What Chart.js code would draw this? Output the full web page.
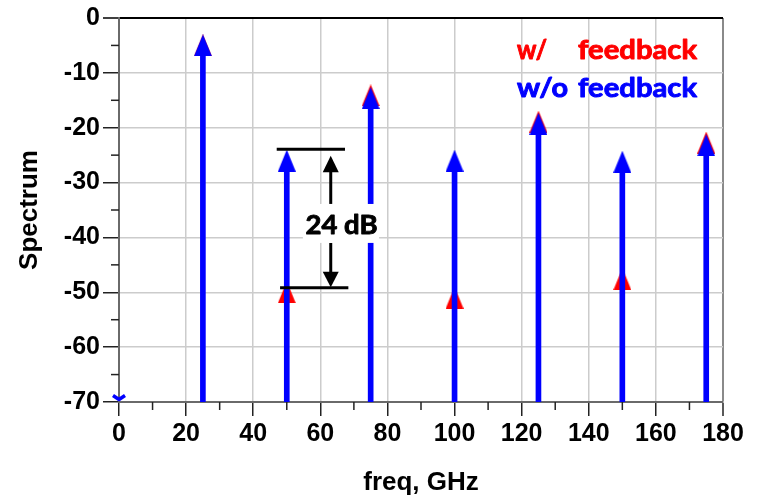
<!DOCTYPE html>
<html><head><meta charset="utf-8">
<script src="https://cdn.jsdelivr.net/npm/chart.js@4"></script>
<style>html,body{margin:0;padding:0;background:#fff}</style>
</head><body>
<canvas id="c" width="758" height="498"></canvas>
<script>
// ---- data ----
const freqs = [25, 50, 75, 100, 125, 150, 175];
const woFeedback = [-5, -26, -14.6, -26, -19.3, -26.2, -23.2];
const wFeedback = [-5, -50, -14.1, -51, -18.9, -47.6, -22.7];
const dcFreq = [0];
const dcLevel = [-70];
const floorLevel = -70;
const xMajorTicks = [0, 20, 40, 60, 80, 100, 120, 140, 160, 180];
const xMinorTicks = [10, 30, 50, 70, 90, 110, 130, 150, 170];
const yMajorTicks = [0, -10, -20, -30, -40, -50, -60, -70];
const yMinorTicks = [-5, -15, -25, -35, -45, -55, -65];
const gapLevels = [-23.93, -49.16];
const gapLabel = '24 dB';
const legendLabels = [['w/', 'feedback'], ['w/o', 'feedback']];

// ---- marker images ----
function triCanvas(color, w, h) {
  const c = document.createElement('canvas'); c.width = w; c.height = h;
  const g = c.getContext('2d'); g.fillStyle = color;
  g.beginPath(); g.moveTo(w / 2, 0); g.lineTo(w, h); g.lineTo(0, h); g.closePath(); g.fill();
  return c;
}
function chevCanvas(color) {
  const c = document.createElement('canvas'); c.width = 16; c.height = 16;
  const g = c.getContext('2d'); g.strokeStyle = color; g.lineWidth = 3.5; g.lineJoin = 'round';
  g.beginPath(); g.moveTo(2, 1.5); g.lineTo(8, 5.5); g.lineTo(14, 1.5); g.stroke();
  return c;
}
const blueTri = triCanvas('#0000ff', 18, 22);
const redTri = triCanvas('#ff0000', 18, 22);
const dcMark = chevCanvas('#0000ff');

function stretchText(ctx, text, x, y, w, color) {
  const m = ctx.measureText(text).width;
  ctx.save(); ctx.translate(x, y); ctx.scale(w / m, 1);
  ctx.fillStyle = color; ctx.strokeStyle = color; ctx.lineWidth = 0.9; ctx.lineJoin = 'round';
  ctx.fillText(text, 0, 0); ctx.strokeText(text, 0, 0);
  ctx.restore();
}

// ---- overlay plugin: minor ticks, gap annotation, legend text ----
const overlay = {
  id: 'overlay',
  afterDraw(chart) {
    const {ctx, chartArea: ca, scales: {x, y}} = chart;
    ctx.save();
    // minor ticks
    ctx.strokeStyle = '#222'; ctx.lineWidth = 1.5;
    xMinorTicks.forEach(v => { const px = x.getPixelForValue(v); ctx.beginPath(); ctx.moveTo(px, ca.bottom); ctx.lineTo(px, ca.bottom + 8); ctx.stroke(); });
    yMinorTicks.forEach(v => { const py = y.getPixelForValue(v); ctx.beginPath(); ctx.moveTo(ca.left - 8, py); ctx.lineTo(ca.left, py); ctx.stroke(); });

    // gap annotation
    const yT = y.getPixelForValue(gapLevels[0]);
    const yB = y.getPixelForValue(gapLevels[1]);
    ctx.strokeStyle = '#000'; ctx.lineWidth = 3;
    ctx.beginPath(); ctx.moveTo(x.getPixelForValue(47.0), yT); ctx.lineTo(x.getPixelForValue(67.35), yT); ctx.stroke();
    ctx.beginPath(); ctx.moveTo(x.getPixelForValue(48.0), yB); ctx.lineTo(x.getPixelForValue(68.35), yB); ctx.stroke();
    const ax = x.getPixelForValue(63.1);
    const bx0 = x.getPixelForValue(54.8), bx1 = x.getPixelForValue(77.5);
    const by0 = y.getPixelForValue(-33.9), by1 = y.getPixelForValue(-41.0);
    ctx.fillStyle = '#000';
    ctx.lineWidth = 3;
    ctx.beginPath(); ctx.moveTo(ax, yT + 20); ctx.lineTo(ax, by0); ctx.stroke();
    ctx.beginPath(); ctx.moveTo(ax, by1); ctx.lineTo(ax, yB - 12); ctx.stroke();
    ctx.beginPath(); ctx.moveTo(ax, yT + 6.5); ctx.lineTo(ax + 8, yT + 23); ctx.lineTo(ax - 8, yT + 23); ctx.closePath(); ctx.fill();
    ctx.beginPath(); ctx.moveTo(ax, yB - 0.5); ctx.lineTo(ax + 8, yB - 16); ctx.lineTo(ax - 8, yB - 16); ctx.closePath(); ctx.fill();
    // label box
    ctx.fillStyle = '#fff';
    ctx.fillRect(bx0, by0, bx1 - bx0, by1 - by0);
    ctx.font = 'bold 26px Lato, "Open Sans", sans-serif';
    ctx.textAlign = 'left'; ctx.textBaseline = 'alphabetic';
    stretchText(ctx, gapLabel, x.getPixelForValue(55.6), y.getPixelForValue(-39.4), 72, '#000');

    // legend text
    ctx.font = 'bold 26px Lato, "Open Sans", sans-serif';
    const colors = ['#ff0000', '#0000ff'];
    const baselines = [ca.top + 41, ca.top + 79];
    const firstW = [30, 51];
    legendLabels.forEach((lab, i) => {
      stretchText(ctx, lab[0], ca.left + 398, baselines[i], firstW[i], colors[i]);
      stretchText(ctx, lab[1], ca.left + 459, baselines[i], 119, colors[i]);
    });
    ctx.restore();
  }
};

const tickFont = {family: '"Liberation Sans", Arial, sans-serif', weight: 'bold', size: 25};
const titleFont = {family: '"Liberation Sans", Arial, sans-serif', weight: 'bold', size: 26};

new Chart(document.getElementById('c'), {
  type: 'scatter',
  data: {
    datasets: [
      {
        type: 'bar',
        data: freqs.map((f, i) => ({x: f, y: [floorLevel, woFeedback[i]]})),
        backgroundColor: '#0000ff', borderWidth: 0, barThickness: 5, order: 2
      },
      {
        data: freqs.map((f, i) => ({x: f, y: wFeedback[i]})),
        pointStyle: redTri, pointRadius: 10, showLine: false, order: 3
      },
      {
        data: freqs.map((f, i) => ({x: f, y: woFeedback[i]})),
        pointStyle: blueTri, pointRadius: 10, showLine: false, order: 1
      },
      {
        data: dcFreq.map((f, i) => ({x: f, y: dcLevel[i]})),
        pointStyle: dcMark, pointRadius: 8, showLine: false, order: 0, clip: false
      }
    ]
  },
  options: {
    responsive: false, animation: false, devicePixelRatio: 1,
    layout: {padding: {top: 18, right: 35, left: 0, bottom: 0}},
    plugins: {legend: {display: false}, tooltip: {enabled: false}},
    scales: {
      x: {
        type: 'linear', min: 0, max: 180, offset: false,
        afterBuildTicks: s => { s.ticks = xMajorTicks.map(v => ({value: v})); },
        afterFit: s => { s.height = 96; },
        ticks: {color: '#000', font: tickFont, padding: 3, maxRotation: 0, autoSkip: false},
        grid: {
          offset: false,
          color: c => (c.tick && c.tick.value === 180) ? '#8a8a8a' : '#cccccc',
          lineWidth: c => (c.tick && c.tick.value === 180) ? 2 : 1.5,
          tickColor: '#222', tickLength: 14, tickWidth: 1.5
        },
        border: {display: true, color: '#6a6a6a', width: 2},
        title: {display: true, text: 'freq, GHz', color: '#000', font: titleFont, padding: {top: 0, bottom: 0}}
      },
      y: {
        type: 'linear', min: -70, max: 0,
        afterBuildTicks: s => { s.ticks = yMajorTicks.slice().reverse().map(v => ({value: v})); },
        afterFit: s => { s.width = 119; },
        ticks: {color: '#000', font: tickFont, padding: 3, autoSkip: false},
        grid: {
          color: c => (c.tick && c.tick.value === 0) ? '#000' : '#cccccc',
          lineWidth: c => (c.tick && c.tick.value === 0) ? 2 : 1.5,
          tickColor: c => (c.tick && c.tick.value === 0) ? '#000' : '#222',
          tickLength: 16, tickWidth: 1.5
        },
        border: {display: true, color: '#6a6a6a', width: 2},
        title: {display: true, text: 'Spectrum', color: '#000', font: titleFont, padding: {top: 14, bottom: 0}}
      }
    }
  },
  plugins: [overlay]
});
</script>
</body></html>
